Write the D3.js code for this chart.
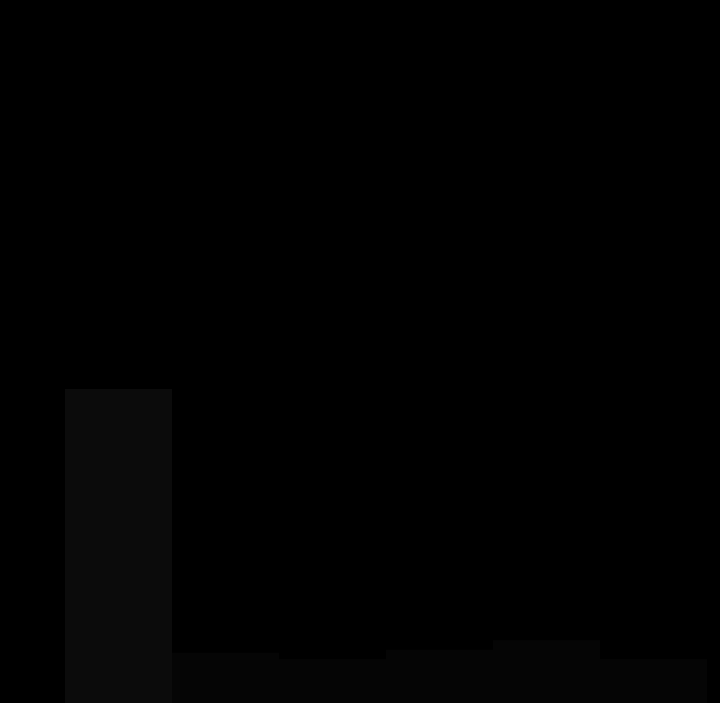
<!DOCTYPE html>
<html><head><meta charset="utf-8">
<script src="https://cdn.jsdelivr.net/npm/d3@7"></script>
<style>html,body{margin:0;padding:0;background:#000;}svg{display:block;}</style>
</head><body>
<script>
const categories = ["A","B","C","D","E","F"];
const values = [100, 16, 14, 17, 20, 14];
const W = 720, H = 703;
const margin = {top: 20, right: 13, bottom: 0, left: 65};
const svg = d3.select("body").append("svg").attr("width", W).attr("height", H);
svg.append("rect").attr("width", W).attr("height", H).attr("fill", "#000");
const x = d3.scaleBand().domain(categories).range([margin.left, W - margin.right]).padding(0);
const y = d3.scaleLinear().domain([0, 100]).range([H - margin.bottom, 389]);
svg.selectAll("rect.bar").data(values).join("rect").attr("class","bar")
  .attr("x", (d,i) => x(categories[i]))
  .attr("width", x.bandwidth())
  .attr("y", d => y(d))
  .attr("height", d => y(0) - y(d))
  .attr("fill", (d,i) => i === 0 ? "#0b0b0b" : "#050505");
</script>
</body></html>
